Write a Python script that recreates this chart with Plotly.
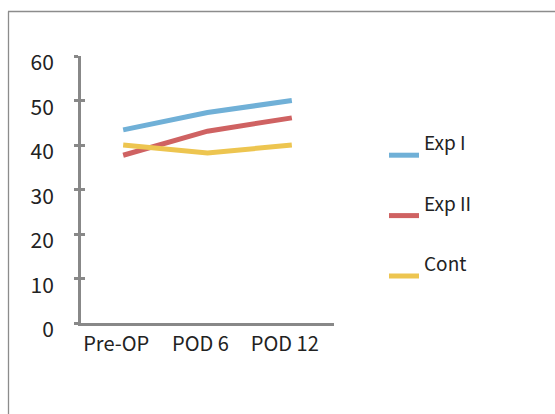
import plotly.graph_objects as go

categories = ["Pre-OP", "POD 6", "POD 12"]
exp1 = [43.4, 47.3, 50.0]
exp2 = [37.7, 43.1, 46.1]
cont = [40.0, 38.2, 40.0]
series_names = ["Exp I", "Exp II", "Cont"]
y_ticks = [0, 10, 20, 30, 40, 50, 60]

colors = ["#70B0D7", "#CF6262", "#EDC550"]
FONT = "Noto Sans CJK KR"
AX = "#888888"

fig = go.Figure()
for name, vals, col in zip(series_names, [exp1, exp2, cont], colors):
    fig.add_trace(go.Scatter(
        x=categories, y=vals, mode="lines", name=name + "<br> ",
        line=dict(color=col, width=5), legendgroup=name,
        cliponaxis=False,
    ))
# invisible helper so the overlaid tick axis is drawn
fig.add_trace(go.Scatter(x=categories, y=[None] * len(categories), yaxis="y2",
                         showlegend=False, hoverinfo="skip", mode="lines"))

W, H = 555, 414
L, R, T, B = 81, 555 - 334, 56, 414 - 323
pw, ph = W - L - R, H - T - B

fig.update_layout(
    width=W, height=H, autosize=False,
    margin=dict(l=L, r=R, t=T, b=B, autoexpand=False),
    paper_bgcolor="white", plot_bgcolor="white",
    font=dict(family=FONT, color="#222222"),
    showlegend=True,
    legend=dict(
        xref="container", yref="container",
        x=384 / W, y=1 - 124 / H, xanchor="left", yanchor="top",
        font=dict(size=19, family=FONT, color="#222222"),
        valign="middle", tracegroupgap=8,
        bgcolor="rgba(0,0,0,0)",
    ),
    xaxis=dict(
        type="category", range=[-0.5, 2.5], automargin=False,
        showline=True, linecolor=AX, linewidth=3,
        showgrid=False, zeroline=False, ticks="",
        tickfont=dict(size=20, family=FONT, color="#222222"),
        ticklabelshift=-7, ticklabelstandoff=1,
    ),
    yaxis=dict(
        range=[0, 60], tickvals=y_ticks, automargin=False,
        showline=True, linecolor=AX, linewidth=3,
        showgrid=False, zeroline=False,
        ticks="outside", ticklen=4, tickwidth=3, tickcolor=AX,
        tickfont=dict(size=21, family=FONT, color="#222222"),
        ticklabelshift=7, ticklabelstandoff=16,
    ),
    yaxis2=dict(
        range=[0, 60], tickvals=y_ticks, overlaying="y", anchor="x", side="left",
        automargin=False,
        showline=False, showgrid=False, zeroline=False, showticklabels=False,
        ticks="inside", ticklen=4, tickwidth=3, tickcolor=AX,
    ),
    shapes=[
        dict(type="line", xref="paper", yref="paper",
             x0=(8 - L) / pw, x1=(W + 5 - L) / pw,
             y0=(323 - 11.5) / ph, y1=(323 - 11.5) / ph,
             line=dict(color="#8C8C8C", width=1.3)),
        dict(type="line", xref="paper", yref="paper",
             x0=(8.5 - L) / pw, x1=(8.5 - L) / pw,
             y0=(323 - 11.5) / ph, y1=(323 - H - 5) / ph,
             line=dict(color="#8C8C8C", width=1.3)),
    ],
)

fig.write_html("out.html", config=dict(displayModeBar=False),
               post_script="document.body.style.margin='0';document.body.style.overflow='hidden';")
